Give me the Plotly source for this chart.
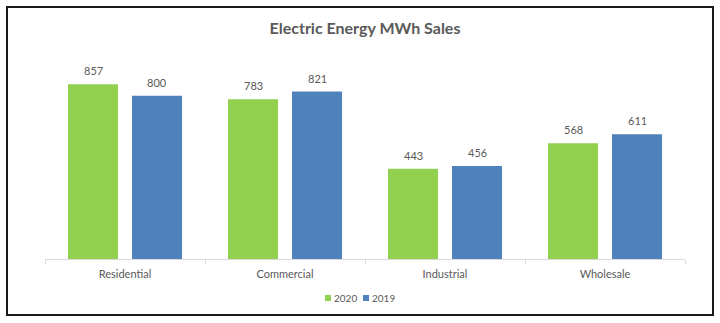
import plotly.graph_objects as go

categories = ["Residential", "Commercial", "Industrial", "Wholesale"]
sales_2020 = [857, 783, 443, 568]
sales_2019 = [800, 821, 456, 611]
series_names = ["2020", "2019"]
colors = ["#92D050", "#4F81BD"]
series_values = [sales_2020, sales_2019]

FONT = "Lato, Open Sans, sans-serif"
TXT = "#595959"

fig = go.Figure()
for name, vals, col in zip(series_names, series_values, colors):
    fig.add_trace(go.Bar(
        x=categories, y=vals, name=name,
        marker=dict(color=col, line=dict(width=0)),
        showlegend=False,
    ))

L, R, T, B = 45, 35, 55, 64
W, H = 720, 323
pw, ph = W - L - R, H - T - B

def px_x(x):
    return (x - L) / pw

def px_y(y):
    return (H - B - y) / ph

annotations = []
# data labels above bars
for i, vals in enumerate(series_values):
    shift = -32 if i == 0 else 32
    for c, v in zip(categories, vals):
        annotations.append(dict(x=c, y=v, xref="x", yref="y", text=str(v), showarrow=False,
                                xshift=shift, yshift=5, yanchor="bottom",
                                font=dict(family=FONT, size=11, color=TXT)))

shapes = [dict(type="rect", xref="paper", yref="paper",
               x0=px_x(7), x1=px_x(713), y0=px_y(315), y1=px_y(7),
               line=dict(color="#1a1a1a", width=2), fillcolor="rgba(0,0,0,0)", layer="above")]

# legend (small squares like the reference)
legend_pos = [(325, 332), (363, 370)]
for (sx, tx), name, col in zip(legend_pos, series_names, colors):
    shapes.append(dict(type="rect", xref="paper", yref="paper",
                       x0=px_x(sx), x1=px_x(sx + 6), y0=px_y(301), y1=px_y(295),
                       line=dict(width=0), fillcolor=col))
    annotations.append(dict(x=px_x(tx), y=px_y(298), xref="paper", yref="paper", text=name,
                            showarrow=False, xanchor="left", yanchor="middle",
                            font=dict(family=FONT, size=10, color=TXT)))

fig.update_layout(
    width=W, height=H,
    margin=dict(l=L, r=R, t=T, b=B, pad=0),
    paper_bgcolor="white", plot_bgcolor="white",
    barmode="group", bargap=0.2, bargroupgap=0.219,
    title=dict(text="<b>Electric Energy MWh Sales</b>", x=0.5, xref="paper", xanchor="center",
               y=1 - 28 / H, yanchor="middle",
               font=dict(family=FONT, size=16, color=TXT)),
    font=dict(family=FONT, size=11, color=TXT),
    showlegend=False,
    annotations=annotations,
    shapes=shapes,
    xaxis=dict(showline=True, linecolor="#D9D9D9", linewidth=1, ticks="outside",
               tickson="boundaries", ticklen=4, tickcolor="#D9D9D9",
               ticklabelstandoff=5,
               tickfont=dict(size=11, color=TXT), showgrid=False, fixedrange=True),
    yaxis=dict(range=[0, 1000], visible=False, showgrid=False, zeroline=False),
)

fig.write_html("out.html")
